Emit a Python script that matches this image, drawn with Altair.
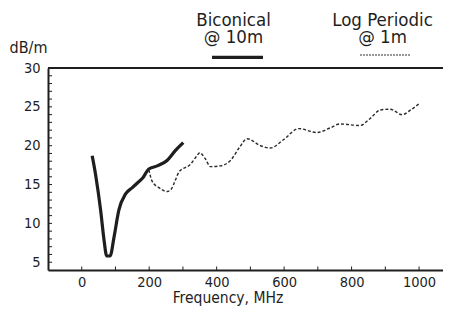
import altair as alt
import pandas as pd

# ---- data ----
bic_freq = [31, 41, 56, 66, 74, 84, 96, 110, 130, 150, 165, 180, 199, 224, 253, 278, 301]
bic_db = [18.7, 16.3, 11.7, 7.9, 5.8, 5.8, 8.3, 11.7, 13.8, 14.6, 15.2, 15.8, 17.0, 17.4, 18.1, 19.4, 20.4]

lp_freq = [199, 209, 229, 253, 265, 278, 288, 322, 340, 350, 365, 382, 411, 441, 468, 490,
           530, 559, 599, 643, 697, 737, 766, 825, 855, 885, 914, 950, 975, 1003]
lp_db = [16.9, 15.4, 14.6, 14.1, 14.4, 15.6, 16.6, 17.6, 18.6, 19.1, 18.4, 17.3, 17.4, 18.1, 19.8, 20.9,
         20.0, 19.7, 20.8, 22.2, 21.7, 22.3, 22.8, 22.6, 23.5, 24.6, 24.7, 24.0, 24.6, 25.5]

x_tick_labels = [0, 200, 400, 600, 800, 1000]
x_tick_marks = list(range(0, 1001, 100))
y_tick_labels = [5, 10, 15, 20, 25, 30]
y_minor_marks = list(range(5, 30))

legend_titles = ["Biconical", "Log Periodic"]
legend_subs = ["@ 10m", "@ 1m"]

x_title = "Frequency, MHz"
y_title = "dB/m"

FONT = "DejaVu Sans Condensed"
INK = "#1e1e1e"
W, H = 395, 202
TOP = 60  # padding above plot area

xscale = alt.Scale(domain=[-100, 1071], nice=False, zero=False)
yscale = alt.Scale(domain=[4, 30], nice=False, zero=False)

x_axis = alt.Axis(
    values=x_tick_labels, format="d", grid=False, ticks=False, tickSize=0,
    domain=True, domainColor=INK, domainWidth=2,
    labelFont=FONT, labelFontSize=14.5, labelColor=INK, labelPadding=5,
    labelFlush=False, labelOverlap=False,
    title=x_title, titleFont=FONT, titleFontSize=15.5, titleFontWeight="normal",
    titleColor=INK, titleX=179.5, titleY=20, titleAlign="center", titleBaseline="top",
)
y_axis = alt.Axis(
    values=y_tick_labels, grid=False, ticks=False, tickSize=0,
    domain=True, domainColor=INK, domainWidth=2,
    labelFont=FONT, labelFontSize=14.5, labelColor=INK, labelPadding=8,
    labelFlush=False, labelOverlap=False,
    title=y_title, titleFont=FONT, titleFontSize=16, titleFontWeight="normal",
    titleColor=INK, titleAngle=0, titleX=-20, titleY=-21,
    titleAlign="center", titleBaseline="middle",
)

X = lambda: alt.X("f:Q", scale=xscale, axis=x_axis)
Y = lambda: alt.Y("v:Q", scale=yscale, axis=y_axis)

bic = pd.DataFrame({"f": bic_freq, "v": bic_db})
lp = pd.DataFrame({"f": lp_freq, "v": lp_db})

bic_line = alt.Chart(bic).mark_line(
    interpolate="monotone", color=INK, strokeWidth=3.2
).encode(x=X(), y=Y())

lp_line = alt.Chart(lp).mark_line(
    interpolate="monotone", color="#2a2a2a", strokeWidth=1.4, strokeDash=[3, 2]
).encode(x=X(), y=Y())

# top border at y = 30
top_border = alt.Chart(pd.DataFrame({"v": [30]})).mark_rule(
    color=INK, strokeWidth=2
).encode(y=Y(), x=alt.value(0), x2=alt.value(W))

# inward ticks
left_ticks = alt.Chart(pd.DataFrame({"v": y_minor_marks})).mark_rule(
    color=INK, strokeWidth=1
).encode(y=Y(), x=alt.value(0), x2=alt.value(4))

bottom_ticks = alt.Chart(pd.DataFrame({"f": x_tick_marks})).mark_rule(
    color=INK, strokeWidth=1
).encode(x=X(), y=alt.value(H), y2=alt.value(H - 3.5))


def legend_text(title, sub, cx, by):
    return alt.Chart(pd.DataFrame({"label": [title + "\n" + sub]})).mark_text(
        font=FONT, fontSize=18.5, color=INK, align="center", baseline="alphabetic",
        lineBreak="\n", lineHeight=17,
    ).encode(text="label:N", x=alt.value(cx), y=alt.value(by))


# positions relative to the plot area's top-left corner
leg1 = legend_text(legend_titles[0], legend_subs[0], 185.5, -42.5)
leg2 = legend_text(legend_titles[1], legend_subs[1], 334.5, -42.5)

leg1_line = alt.Chart(pd.DataFrame({"k": [legend_titles[0]]})).mark_rule(
    color=INK, strokeWidth=3.3
).encode(x=alt.value(164), x2=alt.value(215), y=alt.value(-10.7))

leg2_line = alt.Chart(pd.DataFrame({"k": [legend_titles[1]]})).mark_rule(
    color="#333333", strokeWidth=1, strokeDash=[2, 1]
).encode(x=alt.value(312), x2=alt.value(362), y=alt.value(-13))

chart = alt.layer(
    bic_line, lp_line, top_border, left_ticks, bottom_ticks,
    leg1, leg2, leg1_line, leg2_line,
).properties(
    width=W, height=H,
    autosize=alt.AutoSizeParams(type="none"),
    padding={"left": 40, "top": TOP, "right": 0, "bottom": 300 - TOP - H},
    background="white",
).configure_view(stroke=None)

chart.save("out.html", embed_options={"renderer": "svg", "actions": False})
